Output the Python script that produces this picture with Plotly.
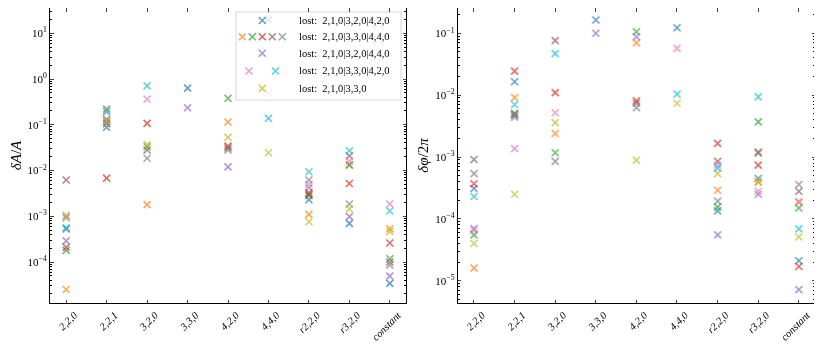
import plotly.graph_objects as go

categories = ["2,2,0", "2,2,1", "3,2,0", "3,3,0", "4,2,0", "4,4,0", "r2,2,0", "r3,2,0", "constant"]
colors = ["#1f77b4", "#ff7f0e", "#2ca02c", "#d62728", "#9467bd",
          "#8c564b", "#e377c2", "#7f7f7f", "#bcbd22", "#17becf"]

# delta A / A, one list per colour (C0..C9)
amp_c0 = [5.3e-4, 0.088, None, 0.63, None, 20, 2.3e-3, 7.0e-4, 3.4e-5]
amp_c1 = [2.5e-5, 0.107, 1.8e-3, None, 0.115, None, 1.1e-3, 0.0135, 5.3e-4]
amp_c2 = [1.8e-4, 0.22, 0.033, None, 0.38, None, 2.8e-3, 0.013, 1.18e-4]
amp_c3 = [2.1e-4, 6.8e-3, 0.107, None, 0.034, None, 3.0e-3, 5.2e-3, 2.6e-4]
amp_c4 = [2.9e-4, 0.117, None, 0.235, 0.012, None, 4.2e-3, 9.8e-4, 4.9e-5]
amp_c5 = [6.2e-3, 0.13, 0.028, None, 0.031, None, 3.3e-3, 0.021, 1.0e-4]
amp_c6 = [1.05e-3, 0.2, 0.36, None, None, 0.5, 5.0e-3, 0.016, 1.85e-3]
amp_c7 = [9.3e-4, 0.105, 0.0185, None, 0.028, None, 6.2e-3, 1.85e-3, 8.6e-5]
amp_c8 = [1.0e-3, 0.12, 0.037, None, 0.053, 0.0245, 7.6e-4, 1.45e-3, 4.6e-4]
amp_c9 = [5.6e-4, 0.19, 0.71, None, None, 0.138, 9.4e-3, 0.027, 1.3e-3]

# delta phi / 2 pi
ph_c0 = [3.1e-4, 0.0165, None, 0.164, None, 0.123, 1.35e-4, 4.5e-4, 2.1e-5]
ph_c1 = [1.6e-5, 9.1e-3, 2.4e-3, None, 0.07, None, 2.9e-4, 4.0e-4, 1.85e-4]
ph_c2 = [5.5e-5, 5.1e-3, 1.17e-3, None, 0.106, None, 1.55e-4, 3.7e-3, 1.5e-4]
ph_c3 = [3.7e-4, 0.0245, 0.011, None, 8.1e-3, None, 1.66e-3, 7.4e-4, 1.7e-5]
ph_c4 = [7.0e-5, 4.4e-3, None, 0.1, 0.088, None, 5.5e-5, 2.5e-4, 7.2e-6]
ph_c5 = [9.1e-4, 4.9e-3, 0.076, None, 7.4e-3, None, 8.5e-4, 1.2e-3, 2.8e-4]
ph_c6 = [6.5e-5, 1.37e-3, 5.2e-3, None, None, 0.057, 7.4e-4, 2.8e-4, 1.9e-4]
ph_c7 = [5.4e-4, 4.7e-3, 8.5e-4, None, 6.3e-3, None, 1.94e-4, 1.15e-3, 3.6e-4]
ph_c8 = [4.0e-5, 2.5e-4, 3.6e-3, None, 8.9e-4, 7.4e-3, 5.4e-4, 3.9e-4, 5.1e-5]
ph_c9 = [2.3e-4, 7.0e-3, 0.047, None, None, 0.0104, 6.6e-4, 9.4e-3, 6.9e-5]

amp = [amp_c0, amp_c1, amp_c2, amp_c3, amp_c4, amp_c5, amp_c6, amp_c7, amp_c8, amp_c9]
phase = [ph_c0, ph_c1, ph_c2, ph_c3, ph_c4, ph_c5, ph_c6, ph_c7, ph_c8, ph_c9]

legend_labels = ["lost:  2,1,0|3,2,0|4,2,0", "lost:  2,1,0|3,3,0|4,4,0",
                 "lost:  2,1,0|3,2,0|4,4,0", "lost:  2,1,0|3,3,0|4,2,0",
                 "lost:  2,1,0|3,3,0"]
legend_members = [[0], [1, 2, 3, 5, 7], [4], [6, 9], [8]]

FONT = "Liberation Serif"

# the html body adds an 8px margin, so the figure is made a bit smaller
OFF = 8
W, H = 822 - OFF, 347 - OFF
L, R, T, B = 50 - OFF, 7, 0, 44
pw = W - L - R
ph = H - T - B
dom1 = [0, (406 - 50) / pw]
dom2 = [(457.7 - 50) / pw, 1]

fig = go.Figure()

def marker(c):
    return dict(symbol="x-thin", size=7, color=c, line=dict(width=1.6, color=c))

for i in range(10):
    fig.add_trace(go.Scatter(x=categories, y=amp[i], mode="markers", opacity=0.7,
                             marker=marker(colors[i]), showlegend=False,
                             xaxis="x", yaxis="y"))
    fig.add_trace(go.Scatter(x=categories, y=phase[i], mode="markers", opacity=0.7,
                             marker=marker(colors[i]), showlegend=False,
                             xaxis="x2", yaxis="y2"))

# hand-made legend on an overlay axis in page-pixel units of the left panel
box_x0, box_x1, box_y0, box_y1 = 236, 401, 12, 100
fig.add_trace(go.Scatter(x=[box_x0, box_x1, box_x1, box_x0, box_x0],
                         y=[box_y0, box_y0, box_y1, box_y1, box_y0],
                         mode="lines", fill="toself", fillcolor="rgba(255,255,255,0.8)",
                         line=dict(color="#d6d6d6", width=1), showlegend=False,
                         hoverinfo="skip", xaxis="x3", yaxis="y3"))
row_y = [20.5, 36.8, 53.3, 71, 88.4]
slots = {1: [262.3], 5: [242.3, 252.3, 262.3, 272.3, 282.3], 2: [249, 275.5]}
for r, members in enumerate(legend_members):
    xs = slots[len(members)]
    for k, ci in enumerate(members):
        fig.add_trace(go.Scatter(x=[xs[k]], y=[row_y[r]], mode="markers", opacity=0.7,
                                 marker=marker(colors[ci]), showlegend=False,
                                 hoverinfo="skip", xaxis="x3", yaxis="y3"))
    fig.add_annotation(x=(297 - 50) / pw, y=1 - (row_y[r] - OFF) / ph,
                       xref="paper", yref="paper", text=legend_labels[r],
                       showarrow=False, xanchor="left", yanchor="middle",
                       font=dict(family=FONT, size=10.5, color="black"))

xcommon = dict(type="category", categoryorder="array", categoryarray=categories,
               range=[-0.4, 8.4], ticks="inside", ticklen=3.5, tickwidth=0.8,
               mirror="allticks", showline=True, linecolor="black", linewidth=1,
               showgrid=False, zeroline=False, tickangle=-45, automargin=False,
               ticklabelshift=8, ticklabelstandoff=1,
               tickmode="array", tickvals=categories,
               ticktext=["<i>%s</i>" % c for c in categories],
               tickfont=dict(family=FONT, size=10.5, color="black"))
ycommon = dict(type="log", ticks="inside", ticklen=3.5, tickwidth=0.8,
               mirror="allticks", showline=True, linecolor="black", linewidth=1,
               showgrid=False, zeroline=False, automargin=False,
               minor=dict(ticks="inside", ticklen=2, tickwidth=0.6, tickcolor="black",
                          dtick="D1", showgrid=False),
               tickfont=dict(family=FONT, size=11, color="black"))

amp_ticks = [10.0 ** e for e in range(-4, 2)]
ph_ticks = [10.0 ** e for e in range(-5, 0)]

def sup(e):
    return "10<sup>%s</sup>" % (str(e).replace("-", "\u2212"))

fig.update_layout(
    width=W, height=H, autosize=False,
    margin=dict(l=L, r=R, t=T, b=B),
    paper_bgcolor="white", plot_bgcolor="white",
    xaxis=dict(domain=dom1, anchor="y", **xcommon),
    yaxis=dict(domain=[0, 1], anchor="x", range=[-4.896, 1.552],
               tickvals=amp_ticks, ticktext=[sup(e) for e in range(-4, 2)],
               title=dict(text="<i>\u03b4A</i>/<i>A</i>", standoff=3,
                          font=dict(family=FONT, size=15, color="black")),
               **ycommon),
    xaxis2=dict(domain=dom2, anchor="y2", **xcommon),
    yaxis2=dict(domain=[0, 1], anchor="x2", range=[-5.36, -0.591],
                tickvals=ph_ticks, ticktext=[sup(e) for e in range(-5, 0)],
                title=dict(text="<i>\u03b4\u03c6</i>/2<i>\u03c0</i>", standoff=3,
                           font=dict(family=FONT, size=15, color="black")),
                **ycommon),
    xaxis3=dict(domain=dom1, anchor="y3", overlaying="x", range=[50, 406],
                visible=False, fixedrange=True),
    yaxis3=dict(domain=[0, 1], anchor="x3", overlaying="y", range=[303, OFF],
                visible=False, fixedrange=True),
)

fig.write_html("out.html")
